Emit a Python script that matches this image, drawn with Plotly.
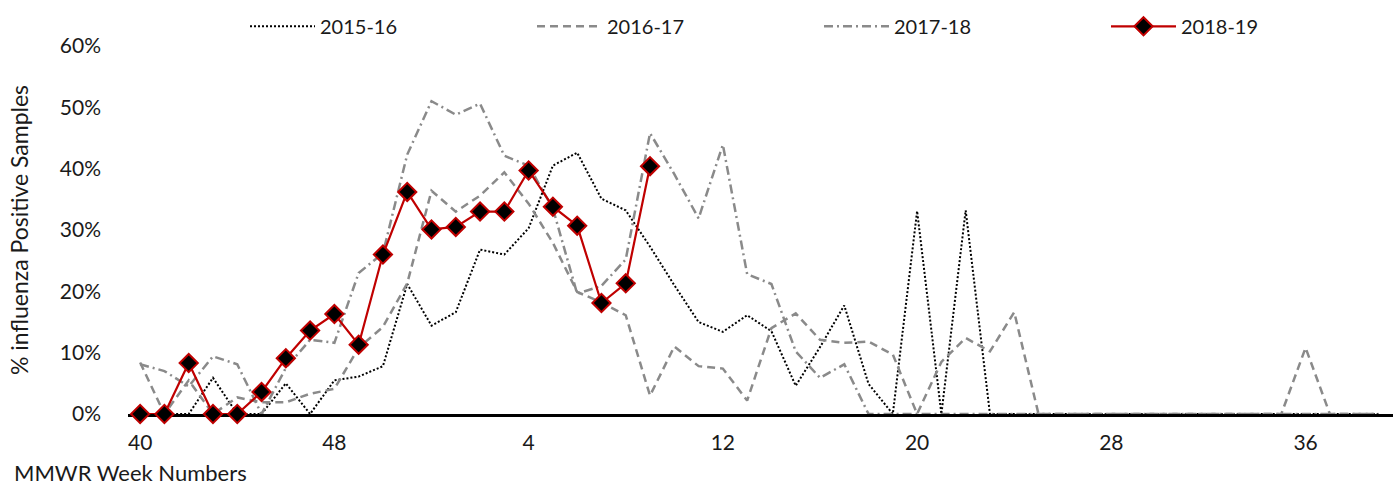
import plotly.graph_objects as go

weeks = ["40", "41", "42", "43", "44", "45", "46", "47", "48", "49", "50", "51", "52",
         "1", "2", "3", "4", "5", "6", "7", "8", "9", "10", "11", "12", "13", "14",
         "15", "16", "17", "18", "19", "20", "21", "22", "23", "24", "25", "26", "27",
         "28", "29", "30", "31", "32", "33", "34", "35", "36", "37", "38", "39"]

tick_weeks = ["40", "48", "4", "12", "20", "28", "36"]

s2015_16 = [0, 0, 0, 5.9, 0, 0, 5.0, 0, 5.5, 6.1, 7.8, 21.2, 14.4, 16.6, 26.8, 26.0,
            30.3, 40.5, 42.6, 35.1, 33.2, 27.3, 21.0, 15.0, 13.4, 16.1, 13.5, 4.6, 10.9,
            17.7, 4.9, 0, 33.1, 0, 33.2, 0,
            0, 0, 0, 0, 0, 0, 0, 0, 0, 0, 0, 0, 0, 0, 0, 0]

s2016_17 = [8.4, 0, 5.5, 0, 2.7, 1.9, 1.9, 3.3, 4.1, 10.8, 14.2, 21.3, 36.4, 33.0, 35.6,
            39.4, 34.3, 27.9, 19.9, 18.2, 16.1, 3.0, 11.0, 7.8, 7.4, 2.2, 14.0, 16.4, 12.1,
            11.6, 11.8, 9.7, 0, 8.5, 12.4, 10.2, 16.6,
            0, 0, 0, 0, 0, 0, 0, 0, 0, 0, 0, 10.8, 0, 0, 0]

s2017_18 = [8.1, 7.0, 4.5, 9.4, 8.1, 0, 7.5, 12.1, 11.6, 23.0, 26.2, 42.3, 51.0, 48.8,
            50.6, 42.1, 40.5, 33.5, 19.6, 20.9, 25.2, 45.8, 39.1, 31.9, 43.9, 22.8, 21.2,
            10.2, 5.9, 8.1,
            0, 0, 0, 0, 0, 0, 0, 0, 0, 0, 0, 0, 0, 0, 0, 0, 0, 0, 0, 0, 0, 0]

s2018_19 = [0, 0, 8.3, 0, 0, 3.6, 9.1, 13.6, 16.3, 11.3, 26.0, 36.2, 30.1, 30.5, 33.0,
            33.0, 39.7, 33.8, 30.7, 18.1, 21.3, 40.4]

GRAY = "#8a8a8a"
FONT = "Lato, 'Open Sans', sans-serif"
TXT = "#1a1a1a"

fig = go.Figure()
fig.add_trace(go.Scatter(x=weeks, y=s2015_16, name="2015-16", mode="lines",
                         line=dict(color="black", width=2, dash="2px,2px"),
                         cliponaxis=False))
fig.add_trace(go.Scatter(x=weeks, y=s2016_17, name="2016-17", mode="lines",
                         line=dict(color=GRAY, width=2.5, dash="8px,5px"),
                         cliponaxis=False))
fig.add_trace(go.Scatter(x=weeks, y=s2017_18, name="2017-18", mode="lines",
                         line=dict(color=GRAY, width=2.5, dash="9px,4px,2px,4px"),
                         cliponaxis=False))
fig.add_trace(go.Scatter(x=weeks[:len(s2018_19)], y=s2018_19, name="2018-19",
                         mode="lines+markers",
                         line=dict(color="#C00000", width=2.2),
                         marker=dict(symbol="diamond", size=14, color="black",
                                     line=dict(color="#C00000", width=2)),
                         cliponaxis=False))

fig.update_layout(
    width=1400, height=485,
    margin=dict(l=128, r=7, t=40, b=71),
    paper_bgcolor="white", plot_bgcolor="white",
    font=dict(family=FONT, size=20, color=TXT),
    showlegend=True,
    legend=dict(orientation="h", x=(245 - 128) / 1265, y=1 + 20 / 374,
                xanchor="left", yanchor="middle",
                entrywidth=207, entrywidthmode="pixels", itemwidth=65,
                font=dict(size=20, family=FONT, color=TXT),
                bgcolor="rgba(0,0,0,0)", traceorder="normal"),
    xaxis=dict(type="category", categoryorder="array", categoryarray=weeks,
               range=[-0.5, 51.6], tickmode="array", tickvals=tick_weeks,
               ticktext=tick_weeks, showgrid=False, zeroline=False,
               showline=True, linecolor="black", linewidth=2.5, ticks="",
               ticklabelstandoff=8, layer="below traces",
               tickfont=dict(size=21, family=FONT, color=TXT)),
    yaxis=dict(range=[0, 60], dtick=10, ticksuffix="%", showgrid=False,
               zeroline=False, showline=False, ticks="", ticklabelstandoff=26,
               tickfont=dict(size=21, family=FONT, color=TXT),
               title=dict(text="% influenza Positive Samples", standoff=24,
                          font=dict(size=23, family=FONT, color=TXT))),
    annotations=[dict(text="MMWR Week Numbers", xref="paper", yref="paper",
                      x=(12 - 128) / 1265, y=-59 / 374, xanchor="left", yanchor="middle",
                      showarrow=False,
                      font=dict(size=22, family=FONT, color=TXT))],
)

fig.write_html("out.html", config={"displayModeBar": False},
               post_script="document.body.style.margin='0';")
